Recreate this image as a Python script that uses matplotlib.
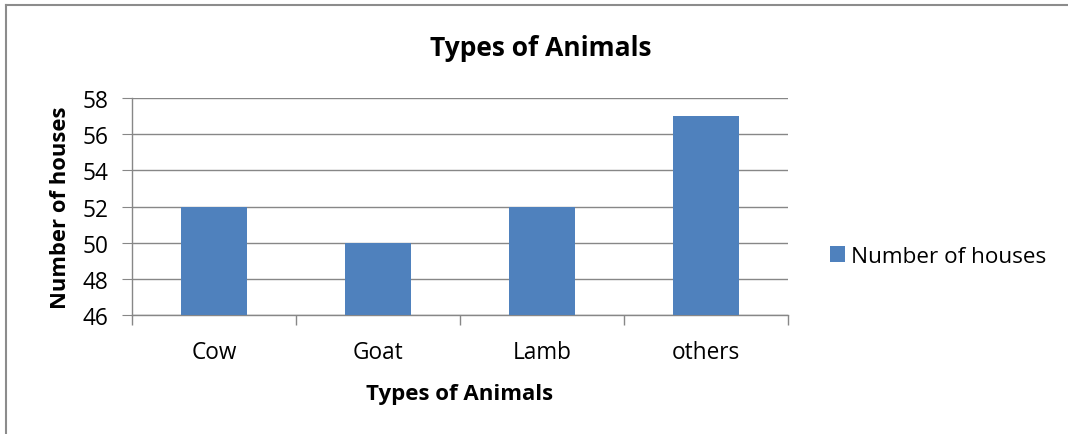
import matplotlib
matplotlib.use("Agg")
import matplotlib.pyplot as plt
from matplotlib.lines import Line2D

categories = ["Cow", "Goat", "Lamb", "others"]
values = [52, 50, 52, 57]
series_name = "Number of houses"
yticks = [46, 48, 50, 52, 54, 56, 58]

plt.rcParams['font.family'] = ['Open Sans', 'DejaVu Sans']

fig = plt.figure(figsize=(10.68, 4.35), dpi=100)
ax = fig.add_axes([132/1068, 1-316/435, 656/1068, (316-99)/435])

color = "#4F81BD"
grid = "#878787"
x = list(range(len(categories)))
ax.bar(x, values, width=0.4, color=color, zorder=3, label=series_name)
ax.set_ylim(46, 58)
ax.set_xlim(-0.5, len(categories) - 0.5)
ax.set_yticks(yticks)
ax.set_yticklabels([str(t) for t in yticks], fontsize=16.3)
ax.yaxis.grid(True, color=grid, linewidth=1, zorder=0)
ax.set_xticks(x)
ax.set_xticklabels(categories, fontsize=16.3)
ax.tick_params(axis='x', length=0, pad=18)
ax.tick_params(axis='y', length=7, color=grid, pad=10)
# category boundary ticks
ax.set_xticks([i - 0.5 for i in range(len(categories) + 1)], minor=True)
ax.tick_params(axis='x', which='minor', length=7, color=grid, width=1)
for s in ['top', 'right']:
    ax.spines[s].set_visible(False)
for s in ['left', 'bottom']:
    ax.spines[s].set_color(grid)
    ax.spines[s].set_linewidth(1)

ax.set_xlabel("Types of Animals", fontsize=16, fontweight='bold', labelpad=14)
ax.set_ylabel("Number of houses", fontsize=15.8, fontweight='bold', labelpad=8)
fig.text(0.506, 1-48/435, "Types of Animals", fontsize=19, fontweight='bold',
         ha='center', va='center')

leg = ax.legend(loc='center left', bbox_to_anchor=(1.033, 0.27), frameon=False,
                fontsize=16.2, handlelength=0.65, handleheight=0.65, handletextpad=0.3)

# outer chart border (only top and left visible in frame)
fig.add_artist(Line2D([6/1068, 6/1068], [0, 1-6/435], transform=fig.transFigure,
                      color="#8C8C8C", linewidth=1.5))
fig.add_artist(Line2D([6/1068, 1], [1-6/435, 1-6/435], transform=fig.transFigure,
                      color="#8C8C8C", linewidth=1.5))

fig.savefig("out.png", dpi=100, facecolor="white")
